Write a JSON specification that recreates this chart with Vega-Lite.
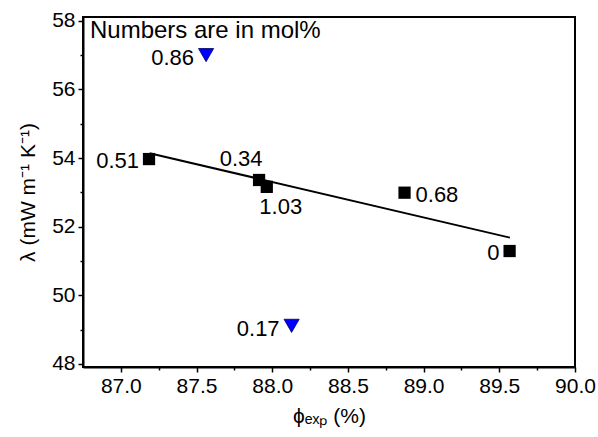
{
  "$schema": "https://vega.github.io/schema/vega-lite/v6.json",
  "autosize": "none",
  "width": 492,
  "height": 350,
  "padding": {"left": 83, "top": 17, "right": 23, "bottom": 70},
  "background": "white",
  "config": {
    "view": {"stroke": "black", "strokeWidth": 2},
    "font": "Liberation Sans",
    "axis": {"grid": false, "domainColor": "black", "domainWidth": 2, "tickColor": "black", "tickWidth": 1.5, "labelColor": "black", "titleColor": "black", "labelFont": "Liberation Sans", "titleFont": "Liberation Sans", "labelFontSize": 21, "titleFontSize": 21, "titleFontWeight": "normal"}
  },
  "datasets": {
    "squares": [
      {"mol": "0.51", "phi": 87.186, "lambda": 53.97},
      {"mol": "0.34", "phi": 87.913, "lambda": 53.36},
      {"mol": "1.03", "phi": 87.964, "lambda": 53.16},
      {"mol": "0.68", "phi": 88.874, "lambda": 52.99},
      {"mol": "0", "phi": 89.568, "lambda": 51.29}
    ],
    "triangles": [
      {"mol": "0.86", "phi": 87.563, "lambda": 57.0},
      {"mol": "0.17", "phi": 88.128, "lambda": 49.11}
    ],
    "fit": [
      {"phi": 87.19, "lambda": 54.14},
      {"phi": 89.57, "lambda": 51.68}
    ],
    "note": [
      {"text": "Numbers are in mol%", "phi": 86.796, "lambda": 57.7}
    ]
  },
  "layer": [
    {
      "data": {"name": "fit"},
      "mark": {"type": "line", "color": "black", "strokeWidth": 2},
      "encoding": {
        "x": {"field": "phi", "type": "quantitative", "scale": {"domain": [86.75, 90.0], "nice": false, "zero": false},
          "axis": {"orient": "bottom", "values": [87.0, 87.5, 88.0, 88.5, 89.0, 89.5, 90.0], "format": ".1f", "tickSize": 5, "labelPadding": 3, "title": "ϕₑₓₚ (%)", "titlePadding": 9, "labelFlush": false, "labelOverlap": false}},
        "y": {"field": "lambda", "type": "quantitative", "scale": {"domain": [47.91, 58.11], "nice": false, "zero": false},
          "axis": {"orient": "left", "values": [48, 50, 52, 54, 56, 58], "tickSize": 5, "labelPadding": 3, "title": "λ (mW m⁻¹ K⁻¹)", "titlePadding": 13, "labelFlush": false, "labelOverlap": false}}
      }
    },
    {
      "data": {"name": "squares"},
      "mark": {"type": "point", "shape": "square", "filled": true, "color": "black", "size": 150, "opacity": 1},
      "encoding": {
        "x": {"field": "phi", "type": "quantitative",
          "axis": {"orient": "bottom", "values": [87.25, 87.75, 88.25, 88.75, 89.25, 89.75], "tickSize": 3, "labels": false, "domain": false, "title": null}},
        "y": {"field": "lambda", "type": "quantitative",
          "axis": {"orient": "left", "values": [49, 51, 53, 55, 57], "tickSize": 3, "labels": false, "domain": false, "title": null}}
      }
    },
    {
      "data": {"name": "triangles"},
      "mark": {"type": "point", "shape": "triangle-down", "filled": true, "fill": "#0000FF", "stroke": "#000060", "strokeWidth": 0.8, "size": 230, "opacity": 1},
      "encoding": {
        "x": {"field": "phi", "type": "quantitative", "axis": null},
        "y": {"field": "lambda", "type": "quantitative", "axis": null}
      }
    },
    {
      "data": {"name": "squares"},
      "transform": [{"filter": "datum.mol == '0.51' || datum.mol == '0'"}],
      "mark": {"type": "text", "align": "right", "baseline": "middle", "dx": -10, "dy": 2, "fontSize": 22, "color": "black"},
      "encoding": {
        "x": {"field": "phi", "type": "quantitative", "axis": null},
        "y": {"field": "lambda", "type": "quantitative", "axis": null},
        "text": {"field": "mol"}
      }
    },
    {
      "data": {"name": "triangles"},
      "mark": {"type": "text", "align": "right", "baseline": "middle", "dx": -12, "dy": 3, "fontSize": 22, "color": "black"},
      "encoding": {
        "x": {"field": "phi", "type": "quantitative", "axis": null},
        "y": {"field": "lambda", "type": "quantitative", "axis": null},
        "text": {"field": "mol"}
      }
    },
    {
      "data": {"name": "squares"},
      "transform": [{"filter": "datum.mol == '0.68'"}],
      "mark": {"type": "text", "align": "left", "baseline": "middle", "dx": 11, "dy": 2, "fontSize": 22, "color": "black"},
      "encoding": {
        "x": {"field": "phi", "type": "quantitative", "axis": null},
        "y": {"field": "lambda", "type": "quantitative", "axis": null},
        "text": {"field": "mol"}
      }
    },
    {
      "data": {"name": "squares"},
      "transform": [{"filter": "datum.mol == '0.34'"}],
      "mark": {"type": "text", "align": "center", "baseline": "middle", "dx": -18, "dy": -21, "fontSize": 22, "color": "black"},
      "encoding": {
        "x": {"field": "phi", "type": "quantitative", "axis": null},
        "y": {"field": "lambda", "type": "quantitative", "axis": null},
        "text": {"field": "mol"}
      }
    },
    {
      "data": {"name": "squares"},
      "transform": [{"filter": "datum.mol == '1.03'"}],
      "mark": {"type": "text", "align": "center", "baseline": "middle", "dx": 14, "dy": 20, "fontSize": 22, "color": "black"},
      "encoding": {
        "x": {"field": "phi", "type": "quantitative", "axis": null},
        "y": {"field": "lambda", "type": "quantitative", "axis": null},
        "text": {"field": "mol"}
      }
    },
    {
      "data": {"name": "note"},
      "mark": {"type": "text", "align": "left", "baseline": "middle", "fontSize": 24, "color": "black"},
      "encoding": {
        "x": {"field": "phi", "type": "quantitative", "axis": null},
        "y": {"field": "lambda", "type": "quantitative", "axis": null},
        "text": {"field": "text"}
      }
    }
  ],
  "resolve": {"axis": {"x": "independent", "y": "independent"}}
}
